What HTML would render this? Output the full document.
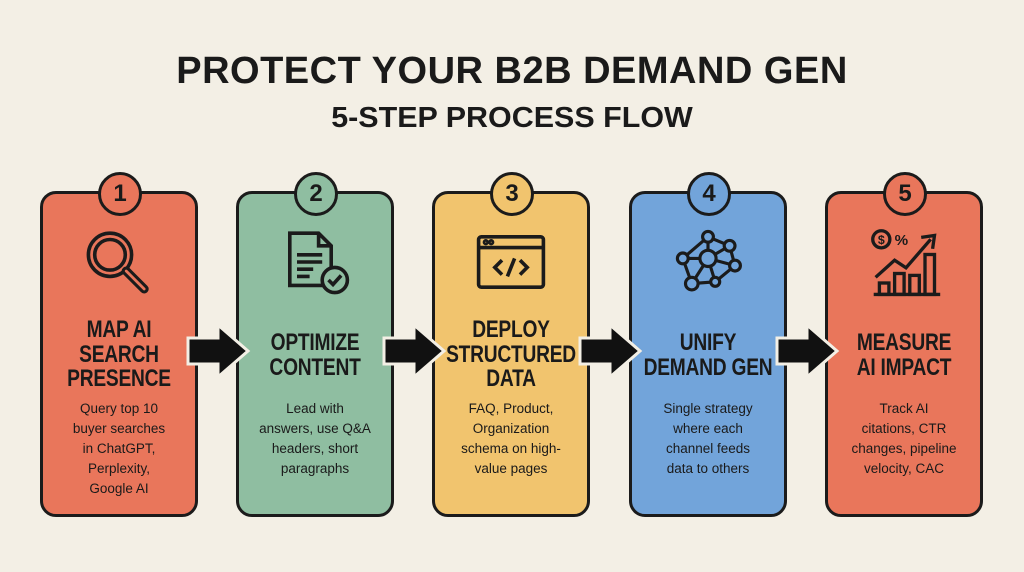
<!DOCTYPE html>
<html><head><style>
body{margin:0;width:1024px;height:572px;background:#f3efe5;position:relative;overflow:hidden;font-family:"Liberation Sans",sans-serif;color:#1a1a1a}
.t{position:absolute;left:0;width:1024px;text-align:center;font-weight:bold}
.card{position:absolute;top:191px;width:152px;height:320px;border:3px solid #1b1b1b;border-radius:16px;box-sizing:content-box}
.num{position:absolute;top:-22px;left:55px;width:38px;height:38px;border:3px solid #1b1b1b;border-radius:50%;font-weight:bold;font-size:24px;text-align:center;line-height:38px}
.h{position:absolute;left:-20px;width:192px;text-align:center;font-weight:bold;font-size:24px;line-height:24.5px;white-space:nowrap;transform:scaleX(0.8);letter-spacing:-0.3px}
.b{position:absolute;top:205px;left:0;width:152px;text-align:center;font-size:13.5px;line-height:20px}
.ic{position:absolute;top:32px;left:40px}
.ar{position:absolute;top:323px}
</style></head><body>
<div class="t" style="top:50px;font-size:38px;letter-spacing:0.5px">PROTECT YOUR B2B DEMAND GEN</div>
<div class="t" style="top:102px;font-size:29px;transform:scaleX(1.05)">5-STEP PROCESS FLOW</div>

<div class="card" style="left:40px;background:#e9765b">
<div class="num" style="background:#e9765b">1</div>
<svg class="ic" width="72" height="72" viewBox="0 0 80 80" fill="none" stroke="#1b1b1b" stroke-width="4"><circle cx="30" cy="32" r="24"/><circle cx="30" cy="32" r="17"/><path d="M48 50 L68 70" stroke-width="10" stroke-linecap="round"/><path d="M48 50 L68 70" stroke="#e9765b" stroke-width="3" stroke-linecap="round"/></svg>
<div class="h" style="top:124px">MAP AI<br>SEARCH<br>PRESENCE</div>
<div class="b">Query top 10<br>buyer searches<br>in ChatGPT,<br>Perplexity,<br>Google AI</div>
</div>

<div class="card" style="left:236px;background:#8fbea1">
<div class="num" style="background:#8fbea1">2</div>
<svg class="ic" width="72" height="72" viewBox="0 0 80 80" fill="none" stroke="#1b1b1b" stroke-width="4"><path d="M12 8 H44 L58 22 V66 H12 Z"/><path d="M44 8 V22 H58"/><path d="M20 32H48M20 40H48M20 48H38M20 56H34"/><circle cx="62" cy="60" r="14" fill="#8fbea1"/><path d="M55 60 L60 65 L69 55"/></svg>
<div class="h" style="top:137px">OPTIMIZE<br>CONTENT</div>
<div class="b">Lead with<br>answers, use Q&amp;A<br>headers, short<br>paragraphs</div>
</div>

<div class="card" style="left:432px;background:#f1c46e">
<div class="num" style="background:#f1c46e">3</div>
<svg class="ic" width="72" height="72" viewBox="0 0 80 80" fill="none" stroke="#1b1b1b" stroke-width="4"><rect x="4" y="12" width="72" height="56" rx="3"/><path d="M4 24H76"/><circle cx="12" cy="18" r="1.5"/><circle cx="18" cy="18" r="1.5"/><path d="M30 38 L22 46 L30 54M50 38 L58 46 L50 54M44 36 L36 56"/></svg>
<div class="h" style="top:124px">DEPLOY<br>STRUCTURED<br>DATA</div>
<div class="b">FAQ, Product,<br>Organization<br>schema on high-<br>value pages</div>
</div>

<div class="card" style="left:629px;background:#72a4da">
<div class="num" style="background:#72a4da">4</div>
<svg class="ic" width="72" height="72" viewBox="0 0 80 80" fill="none" stroke="#1b1b1b" stroke-width="3.5"><path d="M40 12 L64 22 L70 44 L48 62 L22 64 L12 36 L40 12 M40 12 L40 36 M12 36 L40 36 L64 22 M40 36 L70 44 M40 36 L48 62 M40 36 L22 64"/><g fill="#72a4da"><circle cx="40" cy="12" r="6"/><circle cx="64" cy="22" r="6"/><circle cx="70" cy="44" r="6"/><circle cx="48" cy="62" r="5"/><circle cx="22" cy="64" r="7"/><circle cx="12" cy="36" r="6"/><circle cx="40" cy="36" r="9"/></g></svg>
<div class="h" style="top:137px">UNIFY<br>DEMAND GEN</div>
<div class="b">Single strategy<br>where each<br>channel feeds<br>data to others</div>
</div>

<div class="card" style="left:825px;background:#e9765b">
<div class="num" style="background:#e9765b">5</div>
<svg class="ic" width="76" height="76" viewBox="0 0 80 80" fill="none" stroke="#1b1b1b" stroke-width="3.5"><circle cx="14" cy="14" r="9"/><text x="14" y="19" font-size="13" text-anchor="middle" fill="#1b1b1b" stroke="none" font-weight="bold">$</text><text x="28" y="20" font-size="16" fill="#1b1b1b" stroke="none" font-weight="bold">%</text><path d="M8 54 L28 36 L40 44 L66 14 M56 12 L70 10 L68 24"/><path d="M6 72H76"/><rect x="12" y="60" width="10" height="12"/><rect x="28" y="50" width="10" height="22"/><rect x="44" y="52" width="10" height="20"/><rect x="60" y="30" width="10" height="42"/></svg>
<div class="h" style="top:137px">MEASURE<br>AI IMPACT</div>
<div class="b">Track AI<br>citations, CTR<br>changes, pipeline<br>velocity, CAC</div>
</div>

<svg class="ar" style="left:186px" width="66" height="56" viewBox="0 0 66 56"><path d="M2 15 H32 V2 L62 28 L32 54 V41 H2 Z" fill="#111" stroke="#f3efe5" stroke-width="3"/></svg>
<svg class="ar" style="left:382px" width="66" height="56" viewBox="0 0 66 56"><path d="M2 15 H32 V2 L62 28 L32 54 V41 H2 Z" fill="#111" stroke="#f3efe5" stroke-width="3"/></svg>
<svg class="ar" style="left:578px" width="66" height="56" viewBox="0 0 66 56"><path d="M2 15 H32 V2 L62 28 L32 54 V41 H2 Z" fill="#111" stroke="#f3efe5" stroke-width="3"/></svg>
<svg class="ar" style="left:775px" width="66" height="56" viewBox="0 0 66 56"><path d="M2 15 H32 V2 L62 28 L32 54 V41 H2 Z" fill="#111" stroke="#f3efe5" stroke-width="3"/></svg>
</body></html>
